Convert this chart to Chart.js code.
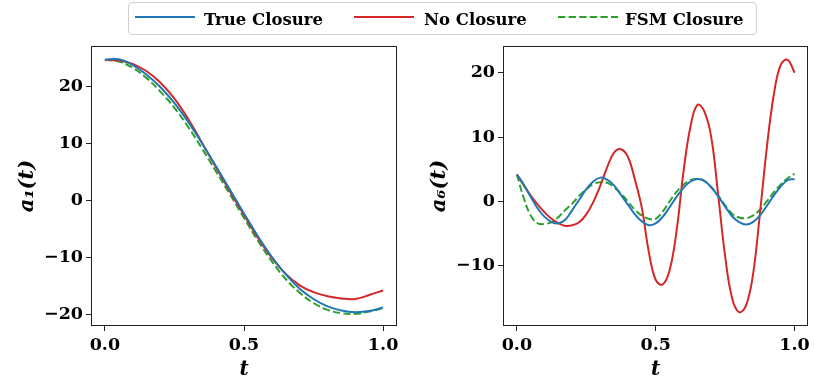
<!DOCTYPE html>
<html>
<head>
<meta charset="utf-8">
<script src="https://cdn.jsdelivr.net/npm/chart.js@4.4.1/dist/chart.umd.min.js"></script>
<style>
  body { margin: 0; background: #fff; width: 814px; height: 385px; position: relative; overflow: hidden; font-family: 'DejaVu Serif', serif; }
  canvas { position: absolute; top: 0; }
  #left { left: 0; }
  #right { left: 407px; }
  #legend { position: absolute; left: 128px; top: 2px; width: 627px; height: 31px; border: 1px solid #d0d0d0; border-radius: 4px; background: #fff; z-index: 2; }
  .sample { position: absolute; top: 12px; }
  .label { position: absolute; top: 1px; height: 31px; line-height: 31px; font-weight: bold; font-size: 16.5px; color: #000; white-space: nowrap; }
</style>
</head>
<body>
<canvas id="left" width="407" height="385"></canvas>
<canvas id="right" width="407" height="385"></canvas>
<div id="legend"></div>
<script>
// time samples
var tLeft = [0, 0.05, 0.1, 0.15, 0.2, 0.25, 0.3, 0.35, 0.4, 0.45, 0.5, 0.55, 0.6, 0.65, 0.7, 0.75, 0.8, 0.85, 0.9, 0.95, 1.0];
var tRight = [0, 0.025, 0.05, 0.075, 0.1, 0.125, 0.15, 0.175, 0.2, 0.225, 0.25, 0.275, 0.3, 0.325, 0.35, 0.375, 0.4, 0.425, 0.45, 0.475, 0.5,
              0.525, 0.55, 0.575, 0.6, 0.625, 0.65, 0.675, 0.7, 0.725, 0.75, 0.775, 0.8, 0.825, 0.85, 0.875, 0.9, 0.925, 0.95, 0.975, 1.0];

// a1(t)
var trueA1 = [24.6, 24.7, 23.7, 22.0, 19.8, 17.0, 13.7, 9.9, 5.9, 1.8, -2.3, -6.3, -9.9, -13.0, -15.5, -17.3, -18.6, -19.3, -19.6, -19.4, -18.8];
var noA1 = [24.6, 24.5, 23.9, 22.6, 20.6, 17.8, 14.2, 10.0, 5.7, 1.5, -2.6, -6.6, -10.1, -12.9, -14.9, -16.1, -16.8, -17.2, -17.3, -16.6, -15.8];
var fsmA1 = [24.6, 24.3, 23.2, 21.4, 19.0, 16.2, 12.8, 9.0, 5.0, 1.0, -3.1, -7.1, -10.7, -13.8, -16.2, -18.0, -19.2, -19.8, -19.9, -19.5, -18.9];

// a6(t)
var trueA6 = [4.2, 2.6, 0.7, -1.1, -2.4, -3.2, -3.4, -2.8, -1.3, 0.3, 1.9, 3.1, 3.7, 3.4, 2.5, 1.0, -0.5, -2.0, -3.1, -3.7, -3.4,
              -2.4, -0.9, 0.7, 2.1, 3.1, 3.5, 3.2, 2.2, 0.8, -0.8, -2.3, -3.2, -3.6, -3.2, -2.2, -0.7, 0.9, 2.3, 3.3, 3.5];
var noA6 = [4.2, 2.5, 0.9, -0.5, -1.7, -2.7, -3.4, -3.8, -3.7, -3.2, -2.0, -0.1, 2.4, 5.3, 7.6, 8.1, 6.9, 3.4, -1.0, -7.8, -12.2,
            -12.9, -10.7, -4.6, 4.6, 11.6, 15.0, 14.0, 10.0, 1.0, -8.5, -15.0, -17.2, -16.2, -11.5, -2.0, 8.3, 16.5, 21.2, 22.0, 20.0];
var fsmA6 = [4.2, 0.5, -2.2, -3.4, -3.5, -3.2, -2.4, -1.3, -0.3, 0.9, 1.9, 2.7, 3.0, 2.9, 2.2, 1.2, 0.0, -1.3, -2.2, -2.7, -2.7,
             -1.6, 0.0, 1.5, 2.6, 3.3, 3.5, 3.2, 2.2, 0.9, -0.6, -1.9, -2.5, -2.6, -2.2, -1.3, 0.0, 1.4, 2.6, 3.6, 4.3];

var seriesNames = ['True Closure', 'No Closure', 'FSM Closure'];
var xTicks = [0, 0.5, 1.0];
var yTicksLeft = [-20, -10, 0, 10, 20];
var yTicksRight = [-10, 0, 10, 20];

var colors = ['#1f77b4', '#d62728', '#2ca02c'];
var dashes = [[], [], [7.4, 3.2]];
var serif = "'DejaVu Serif', serif";

function pts(ts, vs) {
    return ts.map(function (t, i) { return {x: t, y: vs[i]}; });
}

function makeDatasets(ts, lists) {
    return lists.map(function (vs, i) {
        return {
            label: seriesNames[i],
            data: pts(ts, vs),
            borderColor: colors[i],
            borderWidth: 2,
            borderDash: dashes[i],
            pointRadius: 0,
            tension: 0.4,
            fill: false
        };
    });
}

function fmtY(v) {
    return v < 0 ? '\u2212' + Math.abs(v) : String(v);
}

var frame = {
    id: 'frame',
    afterDraw: function (chart) {
        var a = chart.chartArea, c = chart.ctx;
        c.save();
        c.strokeStyle = '#222';
        c.lineWidth = 1;
        c.strokeRect(Math.round(a.left) + 0.5, Math.round(a.top) + 0.5, Math.round(a.right - a.left) - 1, Math.round(a.bottom - a.top) - 1);
        c.restore();
    }
};

function makeChart(id, ts, lists, yMin, yMax, yTicks, yTitle, axisWidth, padRight, titlePad) {
    var ctx = document.getElementById(id).getContext('2d');
    return new Chart(ctx, {
        type: 'line',
        data: {datasets: makeDatasets(ts, lists)},
        plugins: [frame],
        options: {
            responsive: false,
            animation: false,
            devicePixelRatio: 1,
            layout: {padding: {top: 46, right: padRight, bottom: 0, left: 0}},
            plugins: {legend: {display: false}, tooltip: {enabled: false}},
            scales: {
                x: {
                    type: 'linear',
                    min: -0.05,
                    max: 1.05,
                    afterBuildTicks: function (s) { s.ticks = xTicks.map(function (v) { return {value: v}; }); },
                    afterFit: function (s) { s.height = 59; },
                    border: {display: false},
                    grid: {drawOnChartArea: false, drawTicks: true, tickLength: 5, color: '#222'},
                    ticks: {
                        color: '#000',
                        padding: 4,
                        maxRotation: 0,
                        font: {family: serif, size: 17.5, weight: 'bold'},
                        callback: function (v) { return v.toFixed(1); }
                    },
                    title: {
                        display: true,
                        text: 't',
                        color: '#000',
                        font: {family: serif, size: 20, weight: 'bold', style: 'italic'},
                        padding: {top: 0, bottom: 3}
                    }
                },
                y: {
                    type: 'linear',
                    min: yMin,
                    max: yMax,
                    afterBuildTicks: function (s) { s.ticks = yTicks.map(function (v) { return {value: v}; }); },
                    afterFit: function (s) { s.width = axisWidth; },
                    border: {display: false},
                    grid: {drawOnChartArea: false, drawTicks: true, tickLength: 5, color: '#222'},
                    ticks: {
                        color: '#000',
                        padding: 3,
                        font: {family: serif, size: 17.5, weight: 'bold'},
                        callback: function (v) { return fmtY(v); }
                    },
                    title: {
                        display: true,
                        text: yTitle,
                        color: '#000',
                        font: {family: serif, size: 21, weight: 'bold', style: 'italic'},
                        padding: {top: titlePad, bottom: 0}
                    }
                }
            }
        }
    });
}

makeChart('left', tLeft, [trueA1, noA1, fsmA1], -22.03, 27.03, yTicksLeft, 'a\u2081(t)', 91, 10, 15);
makeChart('right', tRight, [trueA6, noA6, fsmA6], -19.35, 24.15, yTicksRight, 'a\u2086(t)', 96, 5, 20);

// shared legend across both panels
var legend = document.getElementById('legend');
var sampleLeft = [6, 225, 429];
var textLeft = [75, 295, 496];
seriesNames.forEach(function (name, i) {
    var svg = document.createElementNS('http://www.w3.org/2000/svg', 'svg');
    svg.setAttribute('class', 'sample');
    svg.setAttribute('width', '60');
    svg.setAttribute('height', '4');
    svg.style.left = sampleLeft[i] + 'px';
    var line = document.createElementNS('http://www.w3.org/2000/svg', 'line');
    line.setAttribute('x1', '0');
    line.setAttribute('x2', '60');
    line.setAttribute('y1', '2');
    line.setAttribute('y2', '2');
    line.setAttribute('stroke', colors[i]);
    line.setAttribute('stroke-width', '2');
    if (dashes[i].length) line.setAttribute('stroke-dasharray', dashes[i].join(' '));
    svg.appendChild(line);
    legend.appendChild(svg);
    var span = document.createElement('span');
    span.className = 'label';
    span.style.left = textLeft[i] + 'px';
    span.textContent = name;
    legend.appendChild(span);
});
</script>
</body>
</html>
